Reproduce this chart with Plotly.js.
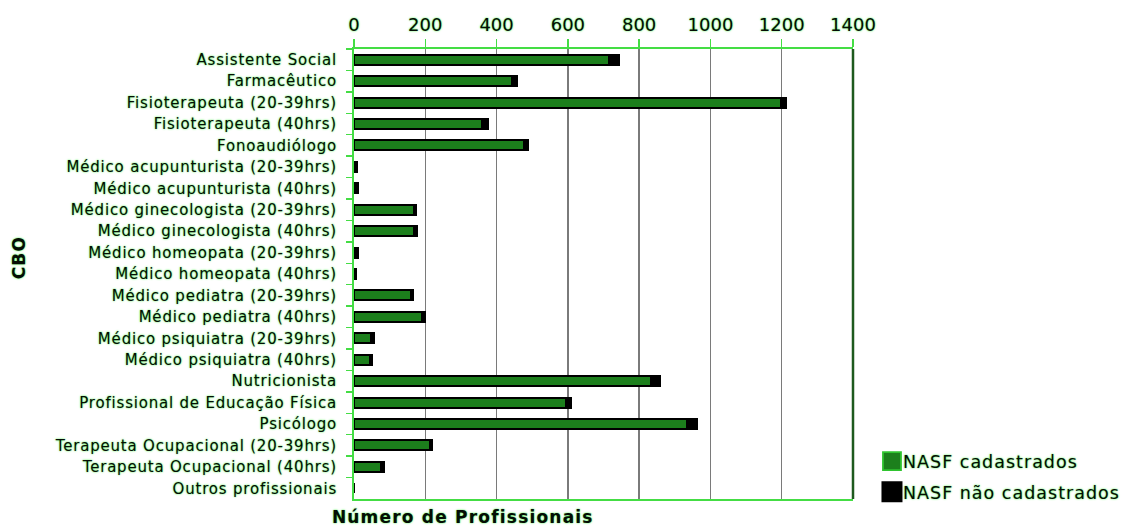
<!DOCTYPE html>
<html>
<head>
<meta charset="utf-8">
<script src="https://cdn.plot.ly/plotly-3.0.1.min.js"></script>
<style>
  html, body { margin: 0; padding: 0; background: #ffffff; }
  #chart { width: 1122px; height: 528px; }
  #chart .ytick text { letter-spacing: 0.8px; }
  #chart .legendtext { letter-spacing: 1.0px; }
  #chart .legend, #chart .legend .scrollbox { clip-path: none !important; }
  #chart .annotation-text { letter-spacing: 1.2px; }
  #chart .legendpoints path { transform: translate(29px, 0px) scale(1.5); }
  #chart .legend .groups:first-of-type .legendpoints path { stroke: #2fc42f !important; stroke-width: 1.2px !important; }
</style>
</head>
<body>
<div id="chart"></div>
<script>
// ---- Data ----
const categories = [
  "Assistente Social",
  "Farmacêutico",
  "Fisioterapeuta (20-39hrs)",
  "Fisioterapeuta (40hrs)",
  "Fonoaudiólogo",
  "Médico acupunturista (20-39hrs)",
  "Médico acupunturista (40hrs)",
  "Médico ginecologista (20-39hrs)",
  "Médico ginecologista (40hrs)",
  "Médico homeopata (20-39hrs)",
  "Médico homeopata (40hrs)",
  "Médico pediatra (20-39hrs)",
  "Médico pediatra (40hrs)",
  "Médico psiquiatra (20-39hrs)",
  "Médico psiquiatra (40hrs)",
  "Nutricionista",
  "Profissional de Educação Física",
  "Psicólogo",
  "Terapeuta Ocupacional (20-39hrs)",
  "Terapeuta Ocupacional (40hrs)",
  "Outros profissionais"
];
const nasfCadastrados = [715, 442, 1198, 360, 477, 0, 0, 168, 168, 0, 0, 160, 192, 49, 45, 832, 594, 935, 213, 75, 0];
const nasfNaoCadastrados = [28, 16, 14, 16, 12, 8, 10, 5, 8, 10, 6, 6, 6, 6, 6, 26, 16, 28, 6, 8, 0];
const seriesNames = ["NASF cadastrados", "NASF não cadastrados"];
const xTickValues = [0, 200, 400, 600, 800, 1000, 1200, 1400];
const xAxisTitle = "Número de Profissionais";
const yAxisTitle = "CBO";

// ---- Styling ----
const GREEN_LINE = "#44dd44";
const BAR_GREEN = "#1c7f1c";
const GLOW = "0px 0px 2px #33ee33";
const FONT = "DejaVu Sans, Verdana, sans-serif";
const txt = (size, weight) => ({ family: FONT, size: size, color: "#050d05", weight: weight || 400, shadow: GLOW });

const traces = [
  {
    type: "bar", orientation: "h",
    name: seriesNames[0], legendgroup: "a",
    y: categories, x: nasfCadastrados,
    marker: { color: BAR_GREEN, line: { color: "#000000", width: 2 } },
    hoverinfo: "x+y"
  },
  {
    type: "bar", orientation: "h",
    name: seriesNames[1], legendgroup: "b",
    y: categories, x: nasfNaoCadastrados,
    marker: { color: "#000000", line: { color: "#000000", width: 2 } },
    hoverinfo: "x+y"
  }
];

const layout = {
  width: 1122, height: 528,
  paper_bgcolor: "#ffffff", plot_bgcolor: "#ffffff",
  margin: { l: 354, r: 269, t: 49, b: 29, pad: 0 },
  barmode: "stack",
  bargap: 0.53,
  showlegend: true,
  legend: {
    x: 1.02, xanchor: "left",
    y: 0.124, yanchor: "top",
    traceorder: "grouped", tracegroupgap: 5,
    font: txt(17.5),
    bgcolor: "rgba(0,0,0,0)",
    itemwidth: 30
  },
  xaxis: {
    side: "top",
    range: [0, 1400],
    tickvals: xTickValues,
    ticktext: xTickValues.map(String),
    tickfont: txt(18),
    ticks: "outside", ticklen: 8, tickcolor: GREEN_LINE, tickwidth: 1.5,
    ticklabelstandoff: 1,
    showgrid: true, gridcolor: "#7a7a7a", gridwidth: 1.5,
    zeroline: false,
    showline: true, linecolor: GREEN_LINE, linewidth: 2, mirror: true,
    fixedrange: true
  },
  yaxis: {
    type: "category",
    autorange: "reversed",
    tickfont: txt(15),
    ticks: "outside", ticklen: 6, tickcolor: GREEN_LINE, tickwidth: 1.5,
    tickson: "boundaries",
    ticklabelstandoff: 12,
    showgrid: false, zeroline: false,
    showline: true, linecolor: GREEN_LINE, linewidth: 2, mirror: false,
    fixedrange: true
  },
  shapes: [
    {
      type: "line", xref: "paper", yref: "paper",
      x0: 1, x1: 1, y0: 0, y1: 1,
      line: { color: "#1e5a1e", width: 2.5 }
    }
  ],
  annotations: [
    {
      text: xAxisTitle, xref: "paper", yref: "paper",
      x: 0.218, y: -0.041, xanchor: "center", yanchor: "middle",
      showarrow: false, font: txt(17, 700)
    },
    {
      text: yAxisTitle, xref: "paper", yref: "paper",
      x: -0.671, y: 0.537, xanchor: "center", yanchor: "middle",
      textangle: -90,
      showarrow: false, font: txt(17, 700)
    }
  ]
};

Plotly.newPlot("chart", traces, layout, { displayModeBar: false, staticPlot: true });
</script>
</body>
</html>
